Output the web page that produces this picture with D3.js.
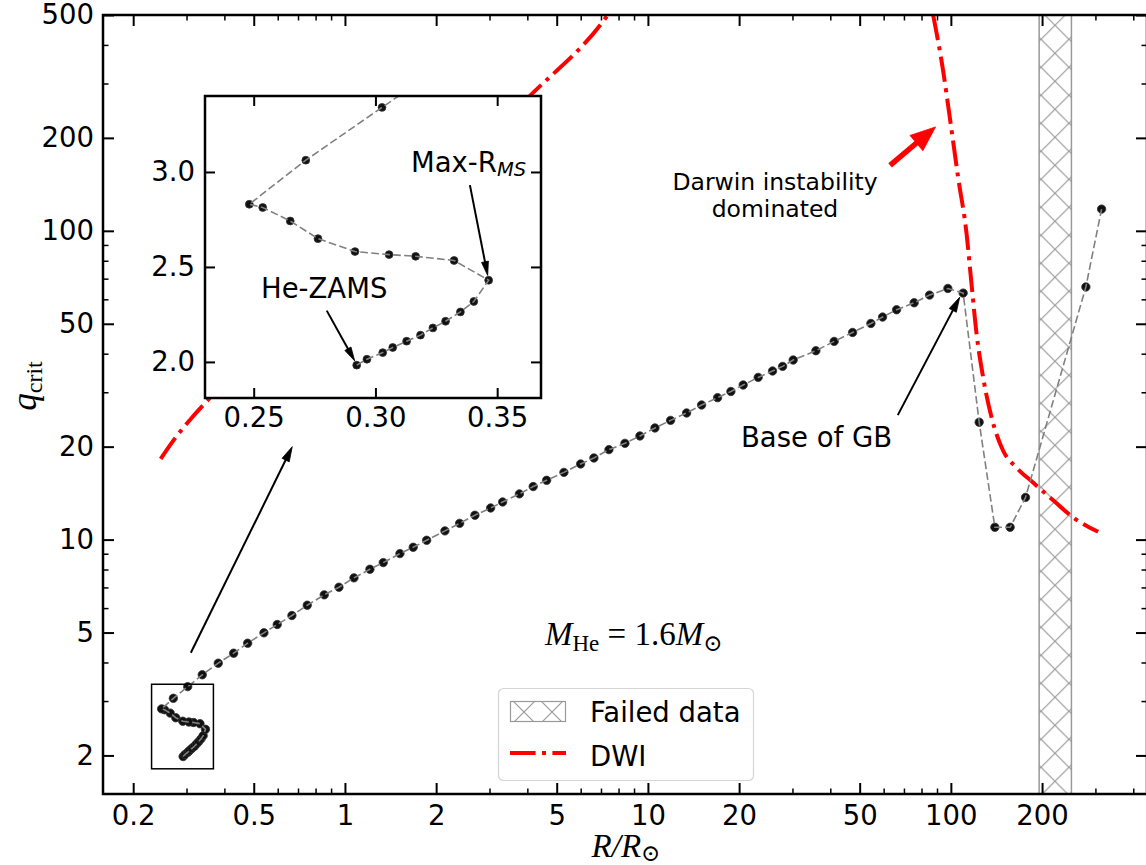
<!DOCTYPE html>
<html><head><meta charset="utf-8">
<script src="https://cdn.jsdelivr.net/npm/d3@7"></script>
<style>body{margin:0;background:#fff}svg{display:block}</style>
</head><body>
<svg id="c" width="1146" height="865"></svg>
<script>
// ---------------- data ----------------
const trackR = [0.2923,0.2965,0.3030,0.3071,0.3128,0.3185,0.3236,0.3288,0.3349,0.3404,0.3465,
  0.3323,0.3165,0.3056,0.2916,0.2764,0.2650,0.2537,0.2482,0.2714,0.3027,
  0.3381,0.3818,0.4292,0.4774,0.5403,0.5977,0.6683,0.7509,0.8545,0.9554,1.071,1.209,1.338,1.519,
  1.680,1.861,2.138,2.391,2.685,3.026,3.315,3.766,4.182,4.632,5.282,5.997,6.634,7.436,8.398,9.410,
  10.55,11.88,13.42,15.04,16.98,18.79,20.63,23.12,25.79,27.84,30.17,35.85,41.19,47.38,54.45,59.51,
  66.19,75.66,85.05,97.74,109.8,124.0,139.7,156.9,176.4,279,314.4];
const trackQ = [1.983,2.014,2.049,2.076,2.109,2.141,2.179,2.214,2.263,2.318,2.430,
  2.534,2.556,2.565,2.581,2.649,2.742,2.813,2.830,3.062,3.34,
  3.649,3.979,4.287,4.618,4.990,5.309,5.677,6.131,6.624,7.010,7.518,8.015,8.425,9.010,
  9.443,9.949,10.67,11.29,11.99,12.66,13.24,14.06,14.85,15.56,16.51,17.58,18.38,19.56,20.50,21.66,
  22.99,24.33,25.71,27.29,28.82,30.18,31.67,33.52,35.16,36.39,38.16,40.90,43.84,46.87,50.12,52.57,
  55.51,58.48,61.93,65.06,62.86,24.0,10.96,10.96,13.7,65.8,117.6];

const dwiLeftR = [0.2464,0.2713,0.3118,0.3497,4.048,7.21,7.37];
const dwiLeftQ = [18.25,20.92,24.77,28.03,271.5,485.4,500];
const dwiRightR = [87.4,94.3,99.2,105.7,112.7,117.0,121.6,127.8,136.2,148.8,164.8,186.8,217.6,253.3,306.3];
const dwiRightQ = [500,329.6,232.7,148.8,97.6,67.2,46.3,33.5,24.9,19.4,17.1,15.3,13.4,11.8,10.6];

const failedRange = [195.6, 250];

const xLim = [0.159, 444];
const yLim = [1.5, 500];
const xMajorTicks = [0.2,0.5,1,2,5,10,20,50,100,200];
const yMajorTicks = [2,5,10,20,50,100,200,500];

const insetXLim = [0.23, 0.368];
const insetYLim = [1.81, 3.4];
const insetXTicks = [0.25,0.30,0.35];
const insetYTicks = [2.0,2.5,3.0];

const legendLabels = ["Failed data","DWI"];

// annotation anchors (data coordinates)
const arrowBoxToInset = {from:[0.31,4.3], to:[0.67,20]};
const arrowGB = {from:[66.8,25.3], to:[107,61]};
const arrowDarwin = {from:[63,163], to:[89,217]};
const arrowZAMS = {from:[0.28,2.27], to:[0.2915,2.005]};
const arrowMaxR = {from:[0.3388,2.931], to:[0.3461,2.455]};

// ---------------- layout ----------------
const L=103, Rr=1147, T=15, B=794;
const IL=205, IR=541, IT=96, IB=398;
const FONT = "'DejaVu Sans', sans-serif";
const SERIF = "'Liberation Serif', 'DejaVu Serif', serif";

const svg = d3.select("#c");
const defs = svg.append("defs");
defs.append("clipPath").attr("id","clipMain").append("rect")
  .attr("x",L).attr("y",T).attr("width",Rr-L).attr("height",B-T);
defs.append("clipPath").attr("id","clipInset").append("rect")
  .attr("x",IL).attr("y",IT).attr("width",IR-IL).attr("height",IB-IT);
function hatchPattern(id, ox, oy){
  const p = defs.append("pattern").attr("id",id).attr("patternUnits","userSpaceOnUse")
    .attr("width",28).attr("height",28).attr("x",ox).attr("y",oy);
  p.append("path").attr("d","M-2,-2L30,30M30,-2L-2,30").attr("stroke","#9a9a9a").attr("stroke-width",1.2).attr("fill","none");
}
hatchPattern("hatch",5,11.3);
hatchPattern("hatchLeg",510,698);

const x = d3.scaleLog().domain(xLim).range([L,Rr]);
const y = d3.scaleLog().domain(yLim).range([B,T]);
const xi = d3.scaleLinear().domain(insetXLim).range([IL,IR]);
const yi = d3.scaleLinear().domain(insetYLim).range([IB,IT]);

function arrow(g, x1,y1,x2,y2, lw, hl, hw, color){
  const dx=x2-x1, dy=y2-y1, len=Math.hypot(dx,dy), ux=dx/len, uy=dy/len;
  const bx=x2-ux*hl, by=y2-uy*hl;
  g.append("line").attr("x1",x1).attr("y1",y1).attr("x2",bx+ux*2).attr("y2",by+uy*2)
    .attr("stroke",color).attr("stroke-width",lw);
  g.append("path").attr("d",`M${x2},${y2}L${bx-uy*hw/2},${by+ux*hw/2}L${bx+uy*hw/2},${by-ux*hw/2}Z`)
    .attr("fill",color).attr("stroke",color).attr("stroke-width",0.8).attr("stroke-linejoin","miter");
}

// ---------------- main plot ----------------
const main = svg.append("g").attr("clip-path","url(#clipMain)");

main.append("rect").attr("x",x(failedRange[0])).attr("y",T-5)
  .attr("width",x(failedRange[1])-x(failedRange[0])).attr("height",B-T+10)
  .attr("fill","url(#hatch)").attr("stroke","#999").attr("stroke-width",1.5);

const lineLog = d3.line().x(d=>x(d[0])).y(d=>y(d[1])).curve(d3.curveMonotoneX);
[[dwiLeftR,dwiLeftQ],[dwiRightR,dwiRightQ]].forEach(([rs,qs])=>{
  main.append("path").datum(rs.map((r,i)=>[r,qs[i]])).attr("d",lineLog)
    .attr("fill","none").attr("stroke","#ff0000").attr("stroke-width",4)
    .attr("stroke-dasharray","25.6,6.4,4,6.4");
});

const track = trackR.map((r,i)=>[r,trackQ[i]]);
main.selectAll("circle.m").data(track).enter().append("circle")
  .attr("cx",d=>x(d[0])).attr("cy",d=>y(d[1])).attr("r",4.2)
  .attr("fill","#111").attr("stroke","#333").attr("stroke-width",0.8);
main.append("path").datum(track)
  .attr("d",d3.line().x(d=>x(d[0])).y(d=>y(d[1])))
  .attr("fill","none").attr("stroke","#808080").attr("stroke-width",1.6).attr("stroke-dasharray","7.7,3.3");

// box showing inset region
main.append("rect").attr("x",x(insetXLim[0])).attr("y",y(insetYLim[1]))
  .attr("width",x(insetXLim[1])-x(insetXLim[0])).attr("height",y(insetYLim[0])-y(insetYLim[1]))
  .attr("fill","none").attr("stroke","#000").attr("stroke-width",1.5);

const ann = svg.append("g");
arrow(ann, x(arrowBoxToInset.from[0]),y(arrowBoxToInset.from[1]),x(arrowBoxToInset.to[0]),y(arrowBoxToInset.to[1]),2,15,8,"#000");
arrow(ann, x(arrowGB.from[0]),y(arrowGB.from[1]),x(arrowGB.to[0]),y(arrowGB.to[1]),2,15,8,"#000");
arrow(ann, x(arrowDarwin.from[0]),y(arrowDarwin.from[1]),x(arrowDarwin.to[0]),y(arrowDarwin.to[1]),5.5,25,20,"#ff0000");

ann.append("text").attr("x",775).attr("y",190).attr("text-anchor","middle")
  .attr("font-family",FONT).attr("font-size",23.5).text("Darwin instability");
ann.append("text").attr("x",775).attr("y",217).attr("text-anchor","middle")
  .attr("font-family",FONT).attr("font-size",23.5).text("dominated");
ann.append("text").attr("x",741).attr("y",447)
  .attr("font-family",FONT).attr("font-size",27.5).text("Base of GB");

const mt = ann.append("text").attr("x",545).attr("y",645).attr("font-family",SERIF).attr("font-size",33);
mt.append("tspan").attr("font-style","italic").text("M");
mt.append("tspan").attr("font-size",23).attr("dy",6).text("He");
mt.append("tspan").attr("dy",-6).text(" = 1.6");
mt.append("tspan").attr("font-style","italic").text("M");
mt.append("tspan").attr("font-size",23).attr("dy",6).attr("font-family","'DejaVu Serif', serif").text("\u2299");

// axes
function styleAxis(g, major){
  g.select(".domain").remove();
  g.selectAll(".tick line").attr("stroke","#000").attr("stroke-width",major?2:1.5);
  g.selectAll(".tick text").attr("font-family",FONT).attr("font-size",27.5).attr("fill","#000");
}
const xMinor = x.ticks().filter(v=>!xMajorTicks.some(m=>Math.abs(m-v)/m<1e-6));
const yMinor = y.ticks().filter(v=>!yMajorTicks.some(m=>Math.abs(m-v)/m<1e-6));
const fmt = d3.format("~g");

svg.append("g").attr("transform",`translate(0,${B})`)
  .call(d3.axisBottom(x).tickValues(xMajorTicks).tickFormat(fmt).tickSize(-11).tickPadding(11))
  .call(g=>styleAxis(g,true));
svg.append("g").attr("transform",`translate(0,${B})`)
  .call(d3.axisBottom(x).tickValues(xMinor).tickFormat("").tickSize(-5.5)).call(g=>styleAxis(g,false));
svg.append("g").attr("transform",`translate(0,${T})`)
  .call(d3.axisTop(x).tickValues(xMajorTicks).tickFormat("").tickSize(-11)).call(g=>styleAxis(g,true));
svg.append("g").attr("transform",`translate(0,${T})`)
  .call(d3.axisTop(x).tickValues(xMinor).tickFormat("").tickSize(-5.5)).call(g=>styleAxis(g,false));
svg.append("g").attr("transform",`translate(${L},0)`)
  .call(d3.axisLeft(y).tickValues(yMajorTicks).tickFormat(fmt).tickSize(-11).tickPadding(9))
  .call(g=>styleAxis(g,true));
svg.append("g").attr("transform",`translate(${L},0)`)
  .call(d3.axisLeft(y).tickValues(yMinor).tickFormat("").tickSize(-5.5)).call(g=>styleAxis(g,false));
svg.append("g").attr("transform",`translate(${Rr},0)`)
  .call(d3.axisRight(y).tickValues(yMajorTicks).tickFormat("").tickSize(-11)).call(g=>styleAxis(g,true));
svg.append("g").attr("transform",`translate(${Rr},0)`)
  .call(d3.axisRight(y).tickValues(yMinor).tickFormat("").tickSize(-5.5)).call(g=>styleAxis(g,false));

svg.append("rect").attr("x",L).attr("y",T).attr("width",Rr-L).attr("height",B-T)
  .attr("fill","none").attr("stroke","#000").attr("stroke-width",2.5);

// axis labels
const xl = svg.append("text").attr("x",626).attr("y",857).attr("text-anchor","middle")
  .attr("font-family",SERIF).attr("font-size",33);
xl.append("tspan").attr("font-style","italic").text("R/R");
xl.append("tspan").attr("font-size",23).attr("dy",4).attr("font-family","'DejaVu Serif', serif").text("\u2299");

const yl = svg.append("text").attr("transform","translate(36,386) rotate(-90)").attr("text-anchor","middle")
  .attr("font-family",SERIF).attr("font-size",35);
yl.append("tspan").attr("font-style","italic").text("q");
yl.append("tspan").attr("font-size",24).attr("dy",6).text("crit");

// legend
const lg = svg.append("g");
lg.append("rect").attr("x",498.5).attr("y",688.5).attr("width",255).attr("height",92).attr("rx",5)
  .attr("fill","#fff").attr("fill-opacity",0.85).attr("stroke","#d5d5d5").attr("stroke-width",1.2);
lg.append("rect").attr("x",510.5).attr("y",701.5).attr("width",55).attr("height",20)
  .attr("fill","url(#hatchLeg)").attr("stroke","#999").attr("stroke-width",1.2);
lg.append("line").attr("x1",510).attr("x2",566).attr("y1",753).attr("y2",753)
  .attr("stroke","#ff0000").attr("stroke-width",4).attr("stroke-dasharray","25.6,6.4,4,6.4");
lg.selectAll("text.lab").data(legendLabels).enter().append("text")
  .attr("x",590).attr("y",(d,i)=>722+i*43.5).attr("font-family",FONT).attr("font-size",27.5).text(d=>d);

// ---------------- inset ----------------
const ins = svg.append("g");
ins.append("rect").attr("x",IL).attr("y",IT).attr("width",IR-IL).attr("height",IB-IT).attr("fill","#fff");
const insc = ins.append("g").attr("clip-path","url(#clipInset)");
insc.selectAll("circle").data(track).enter().append("circle")
  .attr("cx",d=>xi(d[0])).attr("cy",d=>yi(d[1])).attr("r",3.9)
  .attr("fill","#111").attr("stroke","#333").attr("stroke-width",0.8);
insc.append("path").datum(track).attr("d",d3.line().x(d=>xi(d[0])).y(d=>yi(d[1])))
  .attr("fill","none").attr("stroke","#808080").attr("stroke-width",1.6).attr("stroke-dasharray","7.7,3.3");

ins.append("g").attr("transform",`translate(0,${IB})`)
  .call(d3.axisBottom(xi).tickValues(insetXTicks).tickFormat(d3.format(".2f")).tickSize(-10).tickPadding(9))
  .call(g=>styleAxis(g,true));
ins.append("g").attr("transform",`translate(0,${IT})`)
  .call(d3.axisTop(xi).tickValues(insetXTicks).tickFormat("").tickSize(-10)).call(g=>styleAxis(g,true));
ins.append("g").attr("transform",`translate(${IL},0)`)
  .call(d3.axisLeft(yi).tickValues(insetYTicks).tickFormat(d3.format(".1f")).tickSize(-10).tickPadding(10))
  .call(g=>styleAxis(g,true));
ins.append("g").attr("transform",`translate(${IR},0)`)
  .call(d3.axisRight(yi).tickValues(insetYTicks).tickFormat("").tickSize(-10)).call(g=>styleAxis(g,true));
ins.append("rect").attr("x",IL).attr("y",IT).attr("width",IR-IL).attr("height",IB-IT)
  .attr("fill","none").attr("stroke","#000").attr("stroke-width",2.5);

arrow(ins, xi(arrowZAMS.from[0]),yi(arrowZAMS.from[1]),xi(arrowZAMS.to[0]),yi(arrowZAMS.to[1]),2,14,7,"#000");
arrow(ins, xi(arrowMaxR.from[0]),yi(arrowMaxR.from[1]),xi(arrowMaxR.to[0]),yi(arrowMaxR.to[1]),2,14,7,"#000");
ins.append("text").attr("x",261).attr("y",298).attr("font-family",FONT).attr("font-size",27.5).text("He-ZAMS");
const mx = ins.append("text").attr("x",411).attr("y",171.5).attr("font-family",FONT).attr("font-size",27.5);
mx.append("tspan").text("Max-R");
mx.append("tspan").attr("font-size",19.5).attr("font-style","italic").attr("dy",4).text("MS");
</script>
</body></html>
